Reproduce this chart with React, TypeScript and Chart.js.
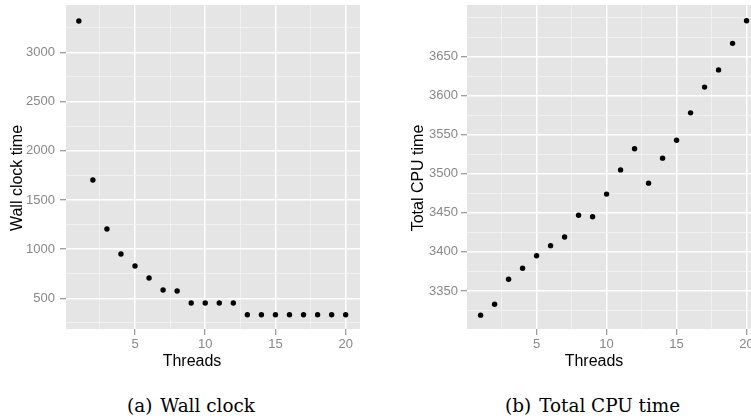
import React, { useEffect, useRef } from "react";
import { Chart, registerables } from "chart.js";

Chart.register(...registerables);

// ---- data ----
const threads = [1, 2, 3, 4, 5, 6, 7, 8, 9, 10, 11, 12, 13, 14, 15, 16, 17, 18, 19, 20];
const wallClock = [3318, 1702, 1204, 950, 828, 706, 584, 574, 452, 452, 452, 452, 333, 333, 333, 333, 333, 333, 333, 333];
const cpuTime = [3319, 3333, 3365, 3379, 3395, 3408, 3419, 3447, 3445, 3474, 3505, 3532, 3488, 3520, 3543, 3578, 3611, 3633, 3667, 3696];
// major (labelled) ticks
const xMajorTicks = [5, 10, 15, 20];
const wallMajorTicks = [500, 1000, 1500, 2000, 2500, 3000];
const cpuMajorTicks = [3350, 3400, 3450, 3500, 3550, 3600, 3650];
// minor grid lines (between the majors)
const xMinorTicks = [2.5, 7.5, 12.5, 17.5];
const wallMinorTicks = [250, 750, 1250, 1750, 2250, 2750, 3250];
const cpuMinorTicks = [3325, 3375, 3425, 3475, 3525, 3575, 3625, 3675, 3700];

const SANS = '"Liberation Sans", Arial, Helvetica, sans-serif';

const panelPlugin = {
  id: "panel",
  beforeDraw(chart: any) {
    const { ctx, chartArea: a } = chart;
    ctx.save();
    ctx.fillStyle = "#E5E5E5";
    ctx.fillRect(a.left, a.top, a.right - a.left, a.bottom - a.top);
    ctx.restore();
  },
  afterDraw(chart: any, _args: any, opts: any) {
    const { ctx } = chart;
    ctx.save();
    ctx.fillStyle = "#000000";
    ctx.font = "16px " + SANS;
    ctx.textAlign = "center";
    ctx.textBaseline = "alphabetic";
    ctx.fillText(opts.xTitle, opts.xTitleX, opts.xTitleY);
    ctx.translate(opts.yTitleX, opts.yTitleY);
    ctx.rotate(-Math.PI / 2);
    ctx.fillText(opts.yTitle, 0, 0);
    ctx.restore();
  },
};

type PanelProps = {
  values: number[];
  majorY: number[];
  minorY: number[];
  yMin: number;
  yMax: number;
  xMin: number;
  xMax: number;
  width: number;
  yAxisWidth: number;
  padRight: number;
  yLabelPad: number;
  yTitle: string;
  yTitleX: number;
  xTitleX: number;
};

const HEIGHT = 380;
const AREA_TOP = 5;
const AREA_BOTTOM = 329;

function Panel(p: PanelProps) {
  const ref = useRef<HTMLCanvasElement | null>(null);
  useEffect(() => {
    if (!ref.current) return;
    const isMajorX = (v: number) => xMajorTicks.includes(v);
    const isMajorY = (v: number) => p.majorY.includes(v);
    const xAll = [...xMinorTicks, ...xMajorTicks].sort((a, b) => a - b);
    const yAll = [...p.minorY, ...p.majorY].sort((a, b) => a - b);
    const chart = new Chart(ref.current, {
      type: "scatter",
      data: {
        datasets: [
          {
            data: threads.map((t, i) => ({ x: t, y: p.values[i] })),
            backgroundColor: "#000000",
            borderColor: "#000000",
            borderWidth: 0,
            pointRadius: 2.7,
            pointHoverRadius: 2.7,
          },
        ],
      },
      options: {
        responsive: false,
        animation: false,
        events: [],
        layout: { padding: { top: AREA_TOP, left: 0, right: p.padRight, bottom: 0 } },
        plugins: {
          legend: { display: false },
          tooltip: { enabled: false },
          panel: {
            xTitle: "Threads",
            xTitleX: p.xTitleX,
            xTitleY: 366,
            yTitle: p.yTitle,
            yTitleX: p.yTitleX,
            yTitleY: 178,
          },
        } as any,
        scales: {
          x: {
            type: "linear",
            min: p.xMin,
            max: p.xMax,
            border: { display: false },
            grid: {
              color: (c: any) => (isMajorX(c.tick?.value) ? "#FFFFFF" : "#F2F2F2"),
              lineWidth: (c: any) => (isMajorX(c.tick?.value) ? 1.5 : 0.8),
              tickColor: (c: any) => (isMajorX(c.tick?.value) ? "#7F7F7F" : "rgba(0,0,0,0)"),
              tickLength: 6,
              tickWidth: 1,
              drawTicks: true,
            },
            ticks: {
              autoSkip: false,
              maxRotation: 0,
              minRotation: 0,
              padding: 2,
              color: "#888888",
              font: { family: SANS, size: 13 },
              callback: (v: any) => (isMajorX(Number(v)) ? String(v) : ""),
            },
            afterBuildTicks: (s: any) => {
              s.ticks = xAll.map((v) => ({ value: v }));
            },
            afterFit: (s: any) => {
              s.height = HEIGHT - AREA_BOTTOM;
              s.paddingLeft = 0;
              s.paddingRight = 0;
            },
          },
          y: {
            type: "linear",
            min: p.yMin,
            max: p.yMax,
            border: { display: false },
            grid: {
              color: (c: any) => (isMajorY(c.tick?.value) ? "#FFFFFF" : "#F2F2F2"),
              lineWidth: (c: any) => (isMajorY(c.tick?.value) ? 1.5 : 0.8),
              tickColor: (c: any) => (isMajorY(c.tick?.value) ? "#7F7F7F" : "rgba(0,0,0,0)"),
              tickLength: 6,
              tickWidth: 1,
              drawTicks: true,
            },
            ticks: {
              autoSkip: false,
              padding: p.yLabelPad,
              color: "#888888",
              font: { family: SANS, size: 13 },
              callback: (v: any) => (isMajorY(Number(v)) ? String(v) : ""),
            },
            afterBuildTicks: (s: any) => {
              s.ticks = yAll.map((v) => ({ value: v }));
            },
            afterFit: (s: any) => {
              s.width = p.yAxisWidth;
              s.paddingTop = 0;
              s.paddingBottom = 0;
            },
          },
        },
      },
      plugins: [panelPlugin],
    });
    return () => chart.destroy();
  }, []);
  return (
    <canvas
      ref={ref}
      width={p.width}
      height={HEIGHT}
      style={{ width: p.width, height: HEIGHT, display: "block" }}
    />
  );
}

const captionStyle: React.CSSProperties = {
  position: "absolute",
  top: 395,
  fontFamily: '"DejaVu Serif", "Liberation Serif", serif',
  fontSize: 18.4,
  lineHeight: "22px",
  color: "#000",
  whiteSpace: "nowrap",
};

export default function App() {
  return (
    <div
      style={{
        position: "fixed",
        left: 0,
        top: 0,
        width: 751,
        height: 419,
        overflow: "hidden",
        background: "#FFFFFF",
      }}
    >
      <div style={{ position: "absolute", left: 0, top: 0 }}>
        <Panel
          values={wallClock}
          majorY={wallMajorTicks}
          minorY={wallMinorTicks}
          yMin={188.3}
          yMax={3481}
          xMin={0.087}
          xMax={21.02}
          width={375}
          yAxisWidth={66}
          padRight={15}
          yLabelPad={5}
          yTitle="Wall clock time"
          yTitleX={21.7}
          xTitleX={192}
        />
      </div>
      <div style={{ position: "absolute", left: 376, top: 0 }}>
        <Panel
          values={cpuTime}
          majorY={cpuMajorTicks}
          minorY={cpuMinorTicks}
          yMin={3301.3}
          yMax={3716.1}
          xMin={0.03}
          xMax={20.96}
          width={400}
          yAxisWidth={91}
          padRight={16}
          yLabelPad={3}
          yTitle="Total CPU time"
          yTitleX={46.7}
          xTitleX={218}
        />
      </div>
      <div style={{ ...captionStyle, left: 127 }}>
        <span>(a)</span>
        <span style={{ marginLeft: 8 }}>Wall clock</span>
      </div>
      <div style={{ ...captionStyle, left: 505 }}>
        <span>(b)</span>
        <span style={{ marginLeft: 8 }}>Total CPU time</span>
      </div>
    </div>
  );
}
